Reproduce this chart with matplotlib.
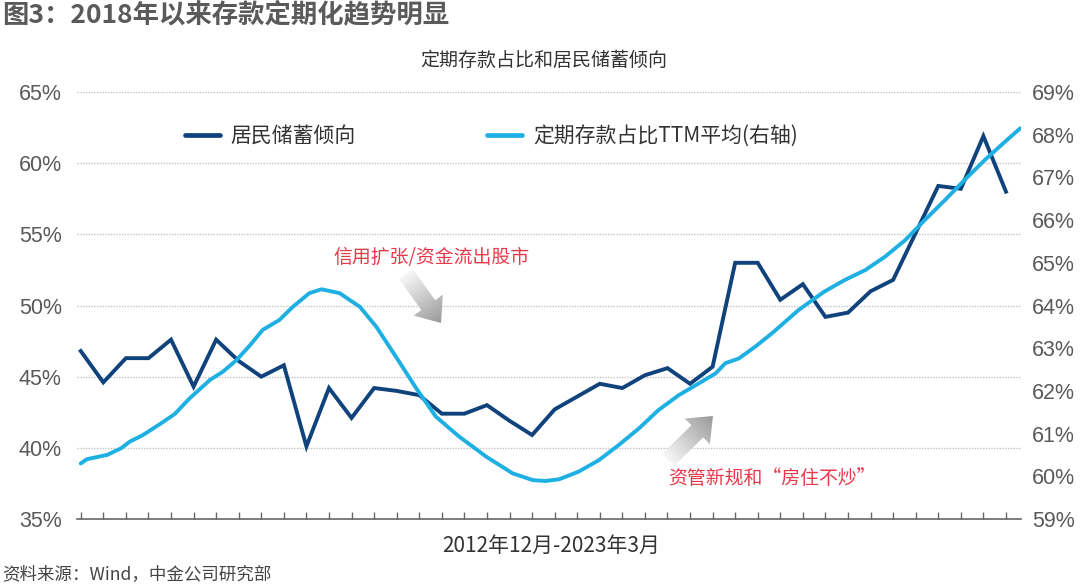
import numpy as np
import matplotlib.pyplot as plt
from matplotlib.lines import Line2D
from matplotlib.patches import FancyArrow
from matplotlib.colors import LinearSegmentedColormap

plt.rcParams['font.family'] = ['Noto Sans CJK SC', 'DejaVu Sans']

# 居民储蓄倾向, quarterly 2012Q4 - 2023Q1 (%), left axis
saving_rate = [46.8, 44.6, 46.3, 46.3, 47.6, 44.3, 47.6, 46.1, 45.0, 45.8,
               40.1, 44.2, 42.1, 44.2, 44.0, 43.7, 42.4, 42.4, 43.0, 41.9,
               40.9, 42.7, 43.6, 44.5, 44.2, 45.1, 45.6, 44.5, 45.7, 53.0,
               53.0, 50.4, 51.5, 49.2, 49.5, 51.0, 51.8, 55.1, 58.4, 58.2,
               61.9, 58.0]
saving_month = np.arange(len(saving_rate)) * 3

# 定期存款占比 TTM 平均 (%), right axis, month index from 2012-12
ttm_month = [0, 0.8, 3.5, 5.4, 6.5, 8.3, 10.5, 12.5, 14.5, 17.2, 18.9, 20.7,
             22.5, 24.2, 26.4, 28.2, 30.4, 32.0, 34.4, 37.1, 39.3, 41.9,
             44.6, 47.2, 50.3, 53.9, 57.4, 60.1, 61.8, 63.6, 66.2, 68.9,
             71.5, 74.2, 76.8, 79.5, 82.2, 84.4, 85.7, 87.5, 89.7, 91.9,
             95.4, 98.8, 101.6, 104.3, 106.9, 109.6, 112.2, 114.9, 117.5,
             120.2, 122.9, 124.9]
ttm_share = [60.30, 60.40, 60.50, 60.66, 60.81, 60.97, 61.22, 61.46, 61.83,
             62.26, 62.45, 62.72, 63.07, 63.43, 63.66, 63.97, 64.29, 64.38,
             64.29, 63.97, 63.50, 62.80, 62.06, 61.40, 60.93, 60.46, 60.07,
             59.91, 59.89, 59.93, 60.11, 60.38, 60.73, 61.12, 61.55, 61.90,
             62.18, 62.41, 62.65, 62.76, 63.04, 63.35, 63.89, 64.32, 64.60,
             64.83, 65.14, 65.53, 66.00, 66.47, 66.94, 67.41, 67.84, 68.15]

left_ticks = [35, 40, 45, 50, 55, 60, 65]
right_ticks = list(range(59, 70))

dark = '#10427c'
light = '#1eb0e2'
grey_txt = '#5a5a5a'
red = '#e8394a'

fig = plt.figure(figsize=(10.8, 5.85), dpi=100)
ax = fig.add_axes([77 / 1080, 66 / 585, 944 / 1080, 427 / 585])
ax2 = ax.twinx()

ax.plot(saving_month, saving_rate, color=dark, lw=2.8, solid_joinstyle='miter', zorder=3)
ax2.plot(ttm_month, ttm_share, color=light, lw=2.8, solid_capstyle='round', zorder=3)

ax.set_xlim(-0.5, 125)
ax.set_ylim(35, 65)
ax2.set_ylim(59, 69)
ax.set_yticks(left_ticks)
ax.set_yticklabels([f'{v}%' for v in left_ticks])
ax2.set_yticks(right_ticks)
ax2.set_yticklabels([f'{v}%' for v in right_ticks])
ax.set_xticks(saving_month)
ax.set_xticklabels([])

for a in (ax, ax2):
    for s in ('top', 'left', 'right', 'bottom'):
        a.spines[s].set_visible(False)
ax.spines['bottom'].set_visible(True)
ax.spines['bottom'].set_color('#666666')
ax.spines['bottom'].set_linewidth(1.2)

ax.tick_params(axis='x', direction='in', length=5, width=1, color='#666666')
ax.tick_params(axis='y', length=0, pad=11, labelsize=15.5, labelcolor=grey_txt)
ax2.tick_params(axis='y', length=0, pad=8, labelsize=15.5, labelcolor=grey_txt)
for lab in ax.get_yticklabels() + ax2.get_yticklabels():
    lab.set_family(['Liberation Sans', 'DejaVu Sans'])

for v in left_ticks[1:]:
    ax.axhline(v, color='#c4c4c4', lw=1, ls=(0, (1, 1)), zorder=1)

handles = [Line2D([], [], color=dark, lw=3.4, solid_capstyle='round'),
           Line2D([], [], color=light, lw=3.4, solid_capstyle='round')]
ax2.legend(handles, ['居民储蓄倾向', '定期存款占比TTM平均(右轴)'],
           loc='center left', bbox_to_anchor=(0.103, 0.897), ncol=2,
           frameon=False, fontsize=15, handlelength=1.7, handletextpad=0.5,
           columnspacing=6.3, borderpad=0, labelcolor='#333333')

# overlay in pixel coordinates for texts and arrows
ov = fig.add_axes([0, 0, 1, 1], zorder=5)
ov.set_xlim(0, 1080)
ov.set_ylim(585, 0)
ov.axis('off')
ov.patch.set_alpha(0)

ov.text(2, 15, '图3：2018年以来存款定期化趋势明显', fontsize=19, fontweight='bold',
        color='#5a5a5a', va='center', ha='left')
ov.text(544, 60, '定期存款占比和居民储蓄倾向', fontsize=13.7, color='#333333',
        va='center', ha='center')
ov.text(551, 546, '2012年12月-2023年3月', fontsize=15, color='#333333',
        va='center', ha='center')
ov.text(2, 575, '资料来源：Wind，中金公司研究部', fontsize=12.6, color='#444444',
        va='center', ha='left')
ov.text(333, 257, '信用扩张/资金流出股市', fontsize=13.6, color=red,
        va='center', ha='left')
ov.text(668, 478, '资管新规和“房住不炒”', fontsize=13.6, color=red,
        va='center', ha='left')

grad = LinearSegmentedColormap.from_list('g', ['#f7f7f7', '#9a9a9a'])


def fat_arrow(x0, y0, x1, y1):
    arr = FancyArrow(x0, y0, x1 - x0, y1 - y0, width=17, head_width=36,
                     head_length=22, length_includes_head=True,
                     fc='none', ec='none')
    ov.add_patch(arr)
    ux, uy = x1 - x0, y1 - y0
    xx, yy = np.meshgrid(np.linspace(min(x0, x1) - 25, max(x0, x1) + 25, 60),
                         np.linspace(min(y0, y1) - 25, max(y0, y1) + 25, 60))
    t = ((xx - x0) * ux + (yy - y0) * uy) / (ux * ux + uy * uy)
    im = ov.imshow(np.clip(t, 0, 1), cmap=grad, vmin=0, vmax=1,
                   extent=(xx.min(), xx.max(), yy.max(), yy.min()),
                   origin='upper', aspect='auto', zorder=4)
    im.set_clip_path(arr)


fat_arrow(406, 274, 441, 323)
fat_arrow(668, 460, 713, 416)
ov.set_xlim(0, 1080)
ov.set_ylim(585, 0)

fig.savefig('out.png', dpi=100)
